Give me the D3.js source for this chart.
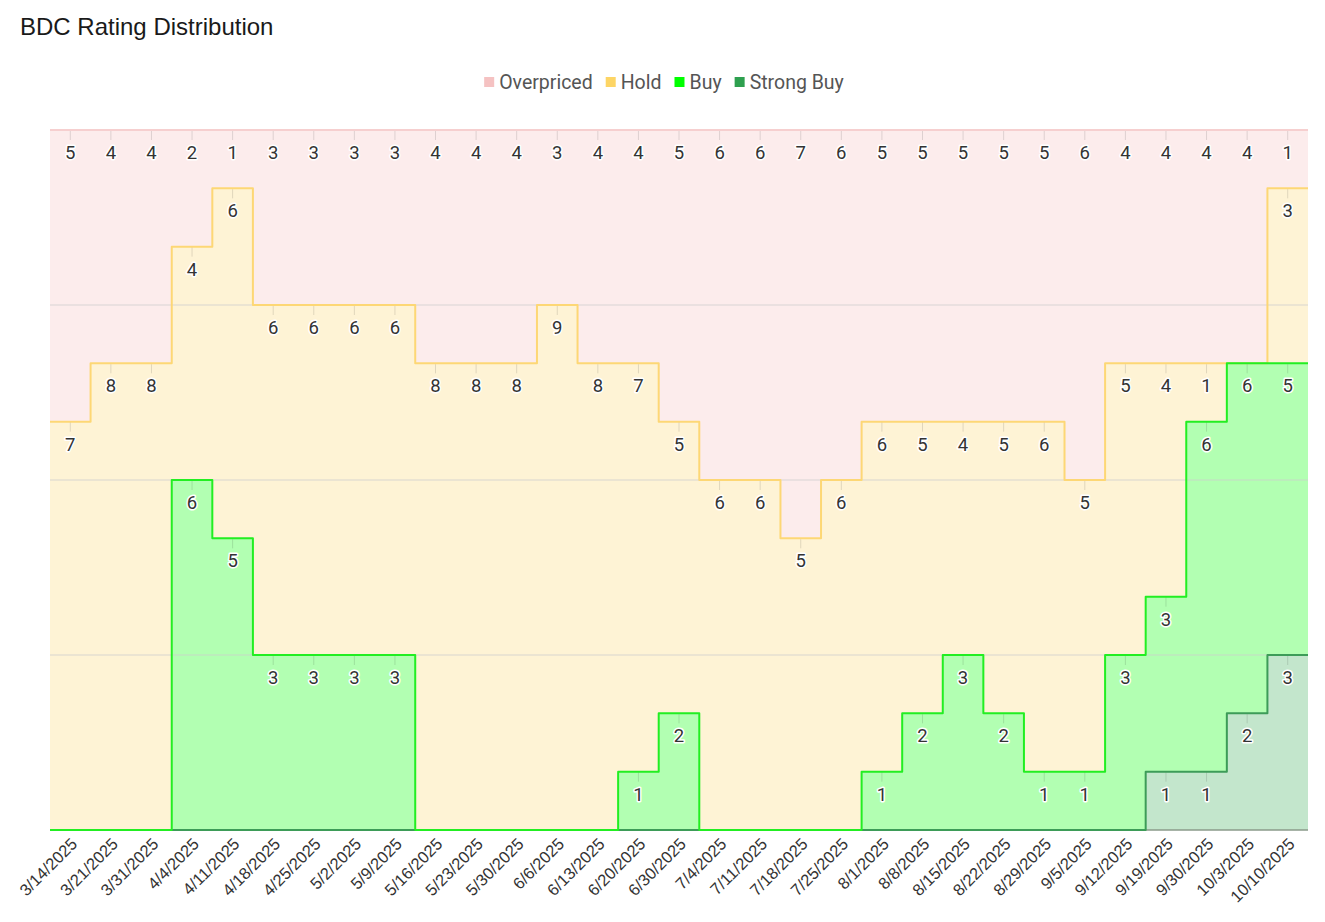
<!DOCTYPE html>
<html><head><meta charset="utf-8">
<script src="https://cdn.jsdelivr.net/npm/d3@7"></script>
<style>
html,body{margin:0;padding:0;background:#fff;}
svg{display:block;}
</style></head>
<body>
<svg id="chart" width="1325" height="922"></svg>
<script>
const dates = ["3/14/2025","3/21/2025","3/31/2025","4/4/2025","4/11/2025","4/18/2025","4/25/2025","5/2/2025","5/9/2025","5/16/2025","5/23/2025","5/30/2025","6/6/2025","6/13/2025","6/20/2025","6/30/2025","7/4/2025","7/11/2025","7/18/2025","7/25/2025","8/1/2025","8/8/2025","8/15/2025","8/22/2025","8/29/2025","9/5/2025","9/12/2025","9/19/2025","9/30/2025","10/3/2025","10/10/2025"];
const overpriced = [5,4,4,2,1,3,3,3,3,4,4,4,3,4,4,5,6,6,7,6,5,5,5,5,5,6,4,4,4,4,1];
const hold       = [7,8,8,4,6,6,6,6,6,8,8,8,9,8,7,5,6,6,5,6,6,5,4,5,6,5,5,4,1,0,3];
const buy        = [0,0,0,6,5,3,3,3,3,0,0,0,0,0,1,2,0,0,0,0,1,2,3,2,1,1,3,3,6,6,5];
const strongBuy  = [0,0,0,0,0,0,0,0,0,0,0,0,0,0,0,0,0,0,0,0,0,0,0,0,0,0,0,1,1,2,3];
const seriesNames = ["Overpriced","Hold","Buy","Strong Buy"];
const yTicks = [0,3,6,9,12];

const colors = {
  "Overpriced": {legend:"#f5c2c2", fill:"#fcecec", stroke:"#f6cfcf"},
  "Hold":       {legend:"#fdd565", fill:"#fef3d5", stroke:"#fdd775"},
  "Buy":        {legend:"#00ff00", fill:"#b2ffb2", stroke:"#22ee22"},
  "Strong Buy": {legend:"#2ea04f", fill:"#c3e6cc", stroke:"#3d9c58"}
};

const rows = dates.map((d,i)=>({date:d, "Overpriced":overpriced[i], "Hold":hold[i], "Buy":buy[i], "Strong Buy":strongBuy[i]}));

const svg = d3.select("#chart");
const M = {left:50, right:1308, top:130, bottom:830};

const x = d3.scaleBand().domain(dates).range([M.left, M.right]).padding(0);
const y = d3.scaleLinear().domain([0,12]).range([M.bottom, M.top]);
const bw = x.bandwidth();

const stackKeys = ["Strong Buy","Buy","Hold","Overpriced"];
const stacked = d3.stack().keys(stackKeys)(rows);

function stepPoints(s){
  const pts = [];
  s.forEach(d=>{
    const x0 = x(d.data.date);
    pts.push({x:x0, y0:d[0], y1:d[1]});
    pts.push({x:x0+bw, y0:d[0], y1:d[1]});
  });
  return pts;
}
const area = d3.area().x(d=>d.x).y0(d=>y(d.y0)).y1(d=>y(d.y1));
const line = d3.line().x(d=>d.x).y(d=>y(d.y1));

// title
svg.append("text").attr("x",20).attr("y",35)
  .attr("font-family","'Liberation Sans', Arial, sans-serif").attr("font-size",24)
  .attr("fill","#1a1a1a").text("BDC Rating Distribution");

// legend
const lg = svg.append("g").attr("font-family","Roboto, 'Noto Sans', sans-serif").attr("font-size",19.5).attr("fill","#555");
const items = [];
seriesNames.forEach(n=>{
  const g = lg.append("g");
  g.append("rect").attr("x",0).attr("y",-5).attr("width",10).attr("height",10).attr("fill",colors[n].legend);
  const t = g.append("text").attr("x",15).attr("y",0).attr("dominant-baseline","central").text(n);
  items.push({g, w: 15 + t.node().getComputedTextLength()});
});
let total = items.reduce((a,b)=>a+b.w,0) + 13*(items.length-1);
let cx = 664 - total/2;
items.forEach(it=>{ it.g.attr("transform",`translate(${cx},82)`); cx += it.w + 13; });

// areas
const areasG = svg.append("g");
stacked.forEach(s=>{
  areasG.append("path").attr("d", area(stepPoints(s))).attr("fill", colors[s.key].fill);
});

// gridlines
svg.append("g").selectAll("line").data(yTicks.filter(t=>t>0 && t<12)).join("line")
  .attr("x1",M.left).attr("x2",M.right).attr("y1",d=>y(d)).attr("y2",d=>y(d))
  .attr("stroke","rgba(205,205,205,0.5)").attr("stroke-width",1.5);

// axis line
svg.append("line").attr("x1",M.left).attr("x2",M.right).attr("y1",M.bottom).attr("y2",M.bottom)
  .attr("stroke","#8a9a8a").attr("stroke-width",1.5);

// strokes
const strokeOrder = ["Overpriced","Hold","Strong Buy","Buy"];
strokeOrder.forEach(k=>{
  const s = stacked.find(t=>t.key===k);
  svg.append("path").attr("d", line(stepPoints(s))).attr("fill","none")
    .attr("stroke", colors[k].stroke).attr("stroke-width",2).attr("stroke-linejoin","round");
});

// labels
const labG = svg.append("g");
stacked.forEach(s=>{
  s.forEach(d=>{
    const v = d[1]-d[0];
    if (v<=0) return;
    const cxp = x(d.data.date) + bw/2;
    const top = y(d[1]);
    labG.append("line").attr("x1",cxp).attr("x2",cxp).attr("y1",top+1).attr("y2",top+10)
      .attr("stroke","rgba(0,0,0,0.12)").attr("stroke-width",1);
    labG.append("text").attr("x",cxp).attr("y",top+23).attr("text-anchor","middle")
      .attr("dominant-baseline","central")
      .attr("font-family","Roboto, 'Noto Sans', sans-serif").attr("font-size",18.5)
      .attr("fill","#333").attr("stroke","#fff").attr("stroke-width",3).attr("paint-order","stroke")
      .attr("stroke-linejoin","round").text(v);
  });
});

// x axis labels
const xAxis = d3.axisBottom(x).tickSize(0).tickPadding(0);
const axG = svg.append("g").attr("transform",`translate(0,${M.bottom})`).call(xAxis);
axG.select(".domain").remove();
axG.selectAll("text")
  .attr("font-family","'Liberation Sans', Arial, sans-serif").attr("font-size",16.5).attr("fill","#333")
  .attr("text-anchor","end").attr("dy",null).attr("y",0).attr("x",0)
  .attr("transform","translate(8,15) rotate(-45)");
</script>
</body></html>
